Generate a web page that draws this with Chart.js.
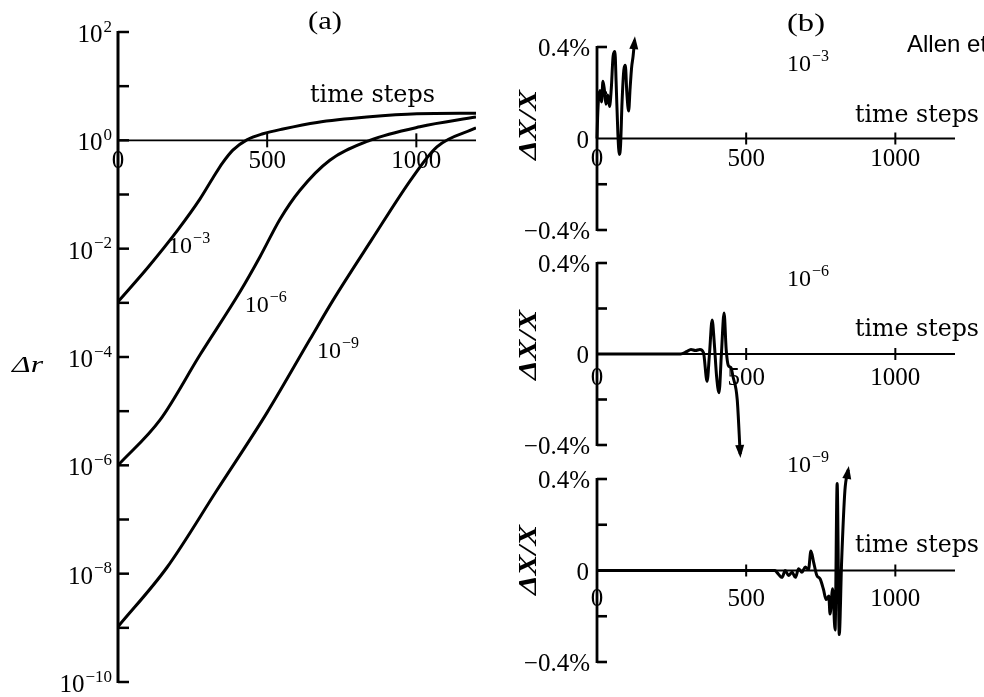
<!DOCTYPE html>
<html>
<head>
<meta charset="utf-8">
<script src="https://cdn.jsdelivr.net/npm/chart.js@4.4.0/dist/chart.umd.min.js"></script>
<style>
  body { margin: 0; background: #fff; }
  #wrap { position: relative; width: 984px; height: 697px; overflow: hidden; }
  #wrap canvas { position: absolute; left: 0; top: 0; }
</style>
</head>
<body>
<div id="wrap">
  <canvas id="panelA" width="984" height="697"></canvas>
  <canvas id="sub1" width="984" height="697"></canvas>
  <canvas id="sub2" width="984" height="697"></canvas>
  <canvas id="sub3" width="984" height="697"></canvas>
</div>
<script>
// ---- data ----
const stepTicks = [0, 500, 1000];
const drExpTicks = [2, 1, 0, -1, -2, -3, -4, -5, -6, -7, -8, -9, -10];
const pctTicks = [0.4, 0.2, 0, -0.2, -0.4];
const perturbations = ['−3', '−6', '−9'];

// (a) Δr against time steps
const drSteps3 = [0, 100, 200, 275, 320, 350, 385, 432, 486, 553, 667, 834, 1002, 1200];
const drValues3 = [1.05e-3, 4.5e-3, 2.2e-2, 8.3e-2, 0.21, 0.38, 0.66, 1.02, 1.32, 1.62, 2.14, 2.69, 3.09, 3.16];
const drSteps6 = [0, 141, 275, 409, 476, 543, 610, 710, 844, 1012, 1200];
const drValues6 = [1.0e-6, 6.9e-6, 1.1e-4, 1.6e-3, 7.1e-3, 3.5e-2, 0.12, 0.43, 1.0, 1.78, 2.69];
const drSteps9 = [0, 164, 332, 499, 643, 720, 850, 988, 1069, 1200];
const drValues9 = [1.05e-9, 1.3e-8, 3.5e-7, 9.3e-6, 2.1e-4, 1.1e-3, 1.45e-2, 0.21, 0.76, 1.7];

// (b) Δx/x in percent
const pctSteps3 = [0, 2, 5, 10, 15, 20, 25, 30, 36, 42, 48, 54, 60, 64, 70, 75, 79, 84, 90, 95, 100, 106, 111, 116, 121, 126];
const pctValues3 = [0, 0.09, 0.17, 0.21, 0.16, 0.25, 0.21, 0.15, 0.19, 0.14, 0.22, 0.36, 0.38, 0.25, 0.02, -0.07, -0.03, 0.16, 0.3, 0.32, 0.2, 0.12, 0.22, 0.31, 0.36, 0.43];
const pctSteps6 = [0, 280, 300, 315, 330, 345, 357, 369, 377, 386, 393, 401, 409, 417, 426, 433, 440, 449, 456, 470, 480];
const pctValues6 = [0, 0, 0.01, 0.02, 0.015, 0.02, 0.005, -0.12, 0, 0.15, 0.05, -0.1, -0.17, 0, 0.18, 0.02, -0.05, -0.06, -0.1, -0.2, -0.44];
const pctSteps9 = [0, 597, 603, 620, 631, 642, 654, 665, 676, 687, 698, 709, 717, 726, 737, 748, 759, 768, 777, 781, 790, 798, 805, 812, 820, 831, 842];
const pctValues9 = [0, 0, -0.008, -0.03, 0, -0.022, -0.008, -0.03, 0.008, -0.008, 0.015, 0.005, 0.085, 0.037, -0.022, -0.037, -0.082, -0.127, -0.112, -0.19, -0.08, -0.26, 0.38, -0.28, 0.04, 0.35, 0.44];

// ---- drawing helpers ----
const SERIF = "'Liberation Serif', serif";
const W = 984, H = 697;

function put(ctx, s, x, y, font, align, fitW) {
  ctx.save();
  ctx.font = font;
  ctx.textAlign = 'left';
  ctx.textBaseline = 'alphabetic';
  const w = ctx.measureText(s).width;
  const k = fitW ? fitW / w : 1;
  const left = align === 'right' ? x - w * k : align === 'center' ? x - w * k / 2 : x;
  ctx.translate(left, y);
  ctx.scale(k, 1);
  ctx.fillText(s, 0, 0);
  ctx.restore();
  return w * k;
}

// "10" with a raised exponent
function pow10(ctx, exp, x, y, size, align) {
  const eSize = Math.round(size * 0.68);
  ctx.save();
  ctx.font = size + 'px ' + SERIF;
  const wb = ctx.measureText('10').width;
  ctx.font = eSize + 'px ' + SERIF;
  const we = ctx.measureText(exp).width;
  ctx.restore();
  const left = align === 'right' ? x - wb - we - 1 : x;
  put(ctx, '10', left, y, size + 'px ' + SERIF, 'left');
  put(ctx, exp, left + wb + 1, y - size * 0.42, eSize + 'px ' + SERIF, 'left');
}

function line(ctx, x1, y1, x2, y2, lw) {
  ctx.lineWidth = lw;
  ctx.beginPath();
  ctx.moveTo(x1, y1);
  ctx.lineTo(x2, y2);
  ctx.stroke();
}

// filled arrow head at the last point of a dataset, pointing along its last segment
function arrowHead(ctx, a, b) {
  const ang = Math.atan2(b.y - a.y, b.x - a.x);
  const len = 13, half = 4.5;
  const tx = b.x + Math.cos(ang) * 4, ty = b.y + Math.sin(ang) * 4;
  ctx.beginPath();
  ctx.moveTo(tx, ty);
  ctx.lineTo(tx - Math.cos(ang) * len - Math.sin(ang) * half, ty - Math.sin(ang) * len + Math.cos(ang) * half);
  ctx.lineTo(tx - Math.cos(ang) * len + Math.sin(ang) * half, ty - Math.sin(ang) * len - Math.cos(ang) * half);
  ctx.closePath();
  ctx.fill();
}

function pts(steps, vals) {
  return steps.map((s, i) => ({ x: s, y: vals[i] }));
}

const baseOptions = (box) => ({
  responsive: false,
  animation: false,
  events: [],
  layout: { padding: { left: box.left, right: W - box.right, top: box.top, bottom: H - box.bottom } },
  plugins: { legend: { display: false }, tooltip: { enabled: false } }
});

// ---- panel (a) ----
const boxA = { left: 118, right: 476, top: 32, bottom: 682 };
const curveLabelsA = [
  { step: 168, dr: 1.2e-2 },
  { step: 425, dr: 1.0e-3 },
  { step: 667, dr: 1.4e-4 }
];

const axesA = {
  id: 'axesA',
  afterDraw(chart) {
    const ctx = chart.ctx, xs = chart.scales.x, ys = chart.scales.y;
    ctx.save();
    ctx.strokeStyle = '#000';
    ctx.fillStyle = '#000';
    const x0 = xs.getPixelForValue(0);
    const yTop = ys.getPixelForValue(1e2), yBot = ys.getPixelForValue(1e-10);
    line(ctx, x0, yTop - 1, x0, yBot + 1, 3);
    drExpTicks.forEach(e => {
      const y = ys.getPixelForValue(Math.pow(10, e));
      line(ctx, x0, y, x0 + 11, y, 2.5);
      if (e % 2 === 0) pow10(ctx, e < 0 ? '−' + (-e) : String(e), 112, y + 10, 25, 'right');
    });
    const y1 = ys.getPixelForValue(1);
    line(ctx, x0, y1, xs.getPixelForValue(1200), y1, 1.8);
    stepTicks.forEach(s => {
      const x = xs.getPixelForValue(s);
      if (s > 0) line(ctx, x, y1 - 7, x, y1 + 7, 2);
      put(ctx, String(s), x, y1 + 28, '25px ' + SERIF, 'center');
    });
    curveLabelsA.forEach((c, i) => {
      pow10(ctx, perturbations[i], xs.getPixelForValue(c.step), ys.getPixelForValue(c.dr) + 9, 24, 'left');
    });
    put(ctx, 'time steps', 310, 102, '24px DejaVu Serif, serif', 'left', 125);
    put(ctx, '(a)', 308, 29, '25px ' + SERIF, 'left', 34);
    put(ctx, 'Δr', 12, 372, 'italic 24px ' + SERIF, 'left', 31);
    ctx.restore();
  }
};

const seriesA = [[drSteps3, drValues3], [drSteps6, drValues6], [drSteps9, drValues9]];
new Chart(document.getElementById('panelA'), {
  type: 'line',
  data: {
    datasets: seriesA.map(([s, v], i) => ({
      label: '10' + perturbations[i],
      data: pts(s, v),
      borderColor: '#000',
      borderWidth: 3,
      pointRadius: 0,
      cubicInterpolationMode: 'monotone'
    }))
  },
  options: Object.assign(baseOptions(boxA), {
    scales: {
      x: { type: 'linear', min: 0, max: 1200, display: false },
      y: { type: 'logarithmic', min: 1e-10, max: 1e2, display: false }
    }
  }),
  plugins: [axesA]
});

// ---- panel (b): three stacked strips ----
const subs = [
  { id: 'sub1', steps: pctSteps3, vals: pctValues3, top: 47, bottom: 230,
    xLab: 27, tsY: 122, tagY: 71, ylabY: 125, title: true },
  { id: 'sub2', steps: pctSteps6, vals: pctValues6, top: 263, bottom: 445,
    xLab: 31, tsY: 336, tagY: 286, ylabY: 345 },
  { id: 'sub3', steps: pctSteps9, vals: pctValues9, top: 479, bottom: 662,
    xLab: 35, tsY: 552, tagY: 472, ylabY: 560 }
];

subs.forEach((p, idx) => {
  const box = { left: 597, right: 955, top: p.top, bottom: p.bottom };
  const axes = {
    id: 'axesB' + idx,
    beforeDatasetsDraw(chart) {
      const ctx = chart.ctx, xs = chart.scales.x, ys = chart.scales.y;
      ctx.save();
      ctx.strokeStyle = '#000';
      ctx.fillStyle = '#000';
      const x0 = xs.getPixelForValue(0), yz = ys.getPixelForValue(0);
      line(ctx, x0, ys.getPixelForValue(0.4) - 1, x0, ys.getPixelForValue(-0.4) + 1, 2.8);
      pctTicks.forEach(v => {
        const y = ys.getPixelForValue(v);
        if (v !== 0) line(ctx, x0, y, x0 + 10, y, 2.6);
        const lab = v === 0 ? '0' : (v > 0 ? '' : '−') + Math.abs(v) + '%';
        if (Math.abs(v) !== 0.2) put(ctx, lab, v === 0 ? 589 : 590, y + 9, '25px ' + SERIF, 'right');
      });
      line(ctx, x0, yz, xs.getPixelForValue(1200), yz, 1.8);
      stepTicks.forEach(s => {
        const x = xs.getPixelForValue(s);
        if (s > 0) line(ctx, x, yz - 6, x, yz + 6, 2);
        put(ctx, String(s), x, yz + p.xLab, '25px ' + SERIF, 'center');
      });
      put(ctx, 'time steps', 855, p.tsY, '24px DejaVu Serif, serif', 'left', 124);
      pow10(ctx, perturbations[idx], 787, p.tagY, 24, 'left');
      if (p.title) {
        put(ctx, '(b)', 787, 31, '26px ' + SERIF, 'left', 38);
        put(ctx, 'Allen et al.', 907, 52, "24px 'Liberation Sans', Arial, sans-serif", 'left');
      }
      ctx.save();
      ctx.translate(528, p.ylabY);
      ctx.rotate(-Math.PI / 2);
      put(ctx, 'ΔX/X', 0, 8, 'bold italic 25px ' + SERIF, 'center', 70);
      ctx.restore();
      ctx.restore();
    },
    afterDatasetsDraw(chart) {
      const el = chart.getDatasetMeta(0).data;
      const ctx = chart.ctx;
      ctx.save();
      ctx.fillStyle = '#000';
      arrowHead(ctx, el[el.length - 2], el[el.length - 1]);
      ctx.restore();
    }
  };
  new Chart(document.getElementById(p.id), {
    type: 'line',
    data: {
      datasets: [{
        label: '10' + perturbations[idx],
        data: pts(p.steps, p.vals),
        borderColor: '#000',
        borderWidth: 3,
        clip: false,
        pointRadius: 0,
        cubicInterpolationMode: 'monotone'
      }]
    },
    options: Object.assign(baseOptions(box), {
      scales: {
        x: { type: 'linear', min: 0, max: 1200, display: false },
        y: { type: 'linear', min: -0.4, max: 0.4, display: false }
      }
    }),
    plugins: [axes]
  });
});
</script>
</body>
</html>
